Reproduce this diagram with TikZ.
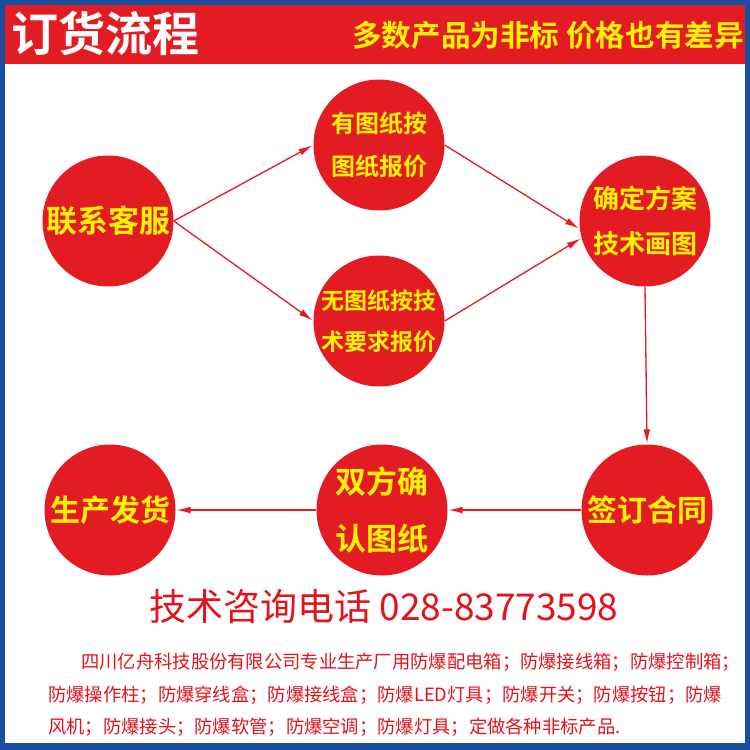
\documentclass[tikz,border=0pt]{standalone}
\usepackage{fontspec}
\newfontfamily\cjk[BoldFont={Noto Sans CJK SC Bold}]{Noto Sans CJK SC}
\usetikzlibrary{arrows.meta}
\definecolor{hdred}{HTML}{E31B23}
\definecolor{txtred}{HTML}{E3121B}
\definecolor{frameblue}{HTML}{1B4E9E}
\definecolor{hdyellow}{HTML}{FFF200}

\begin{document}
\begin{tikzpicture}[x=1pt,y=-1pt,
  stage/.style={circle,fill=hdred,minimum size=131pt,inner sep=0pt,text=hdyellow,align=center},
  txt/.style={inner sep=0pt},
  flow/.style={draw=hdred,line width=1.3pt,shorten >=1pt,-{Latex[length=14pt,width=7pt]}}]
\useasboundingbox (0,0) rectangle (750,750);
\fill[frameblue] (0,0) rectangle (750,750);
\fill[white] (5,5) rectangle (745,743);
\fill[hdred] (5,5) rectangle (745,64);

\node[txt,anchor=west,text=white,font=\cjk\bfseries\fontsize{47}{47}\selectfont] (title) at (11,33) {订货流程};
\node[txt,anchor=east,text=hdyellow,font=\cjk\bfseries\fontsize{29.6}{30}\selectfont] (note) at (744,35) {多数产品为非标 价格也有差异};

\node[stage,font=\cjk\bfseries\fontsize{31}{31}\selectfont] (kf) at (108,221) {联系客服};
\node[stage,font=\cjk\bfseries\fontsize{24}{43}\selectfont] (yt) at (379,145) {有图纸按\\图纸报价};
\node[stage,font=\cjk\bfseries\fontsize{23}{41}\selectfont] (wt) at (379,321) {无图纸按技\\术要求报价};
\node[stage,font=\cjk\bfseries\fontsize{26}{45}\selectfont] (fa) at (645,221) {确定方案\\技术画图};
\node[stage,font=\cjk\bfseries\fontsize{30}{30}\selectfont] (ht) at (647,510) {签订合同};
\node[stage,font=\cjk\bfseries\fontsize{31}{57}\selectfont] (qr) at (382,510) {双方确\\认图纸};
\node[stage,font=\cjk\bfseries\fontsize{30}{30}\selectfont] (fh) at (110,510) {生产发货};

\draw[flow] (kf.east) -- (yt.west);
\draw[flow] (kf.east) -- (wt.west);
\draw[flow] (yt.east) -- (fa.187);
\draw[flow] (wt.east) -- (fa.195);
\draw[flow] (fa.south) -- (ht.north);
\draw[flow] (ht.west) -- (qr.east);
\draw[flow] (qr.west) -- (fh.east);

\node[txt,text=txtred,font=\cjk\fontsize{37}{37}\selectfont] (tel) at (384,607) {技术咨询电话 028-83773598};
\node[txt,anchor=west,text=txtred,font=\cjk\fontsize{18.3}{18}\selectfont] (l1) at (81,662) {四川亿舟科技股份有限公司专业生产厂用防爆配电箱；防爆接线箱；防爆控制箱；};
\node[txt,anchor=west,text=txtred,font=\cjk\fontsize{18.3}{18}\selectfont] (l2) at (48,695) {防爆操作柱；防爆穿线盒；防爆接线盒；防爆LED灯具；防爆开关；防爆按钮；防爆};
\node[txt,anchor=west,text=txtred,font=\cjk\fontsize{18.3}{18}\selectfont] (l3) at (48,727) {风机；防爆接头；防爆软管；防爆空调；防爆灯具；定做各种非标产品.};
\end{tikzpicture}
\end{document}
